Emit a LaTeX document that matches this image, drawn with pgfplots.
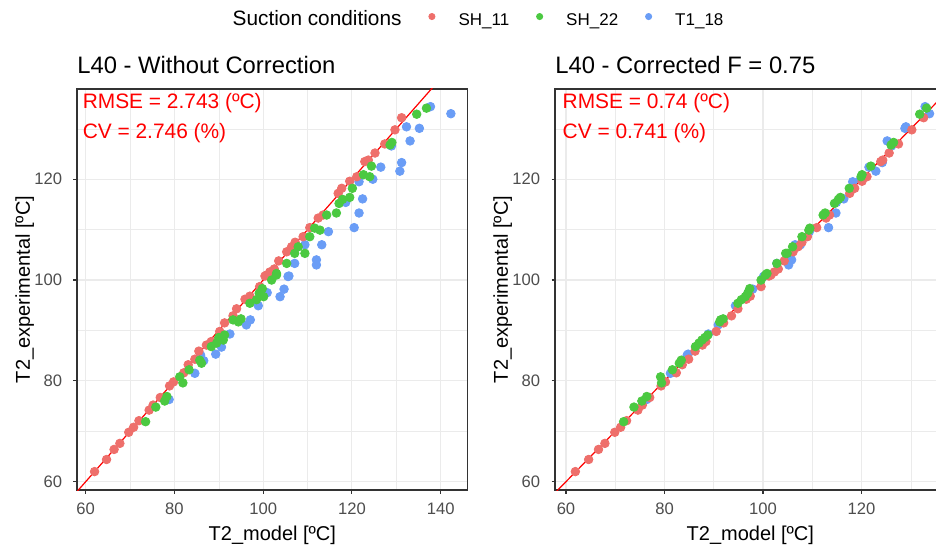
\documentclass[border=0pt]{standalone}
\usepackage{pgfplots}
\pgfplotsset{compat=1.18}
\usepackage{fontspec}
\setmainfont{Liberation Sans}

\definecolor{cSH}{HTML}{EE6F6B}
\definecolor{cSG}{HTML}{4BC941}
\definecolor{cT}{HTML}{6A9DF6}
\definecolor{tickgray}{HTML}{4D4D4D}
\definecolor{frame}{HTML}{333333}
\definecolor{gridc}{HTML}{EBEBEB}

\tikzset{annot/.style={anchor=base west, inner sep=0pt, text=red, font=\fontsize{10.45}{12}\selectfont}}

\pgfplotsset{
  panel/.style={
    scale only axis, width=195.35pt, height=200.5pt,
    ymin=58.35, ymax=137.9,
    xtick distance=20, ytick distance=20,
    minor x tick num=1, minor y tick num=1,
    grid=both,
    major grid style={color=gridc, line width=0.55pt},
    minor grid style={color=gridc, line width=0.3pt},
    axis line style={color=frame, line width=0.6pt},
    tick align=outside, xtick pos=bottom, ytick pos=left,
    major tick length=1.75pt, minor tick length=0pt,
    tick style={color=frame, line width=0.55pt},
    ticklabel style={font=\fontsize{8.3}{10}\selectfont, text=tickgray, inner sep=0pt},
    xticklabel style={anchor=north, yshift=-4.7pt},
    yticklabel style={anchor=east, xshift=-5.5pt},
    /pgf/number format/assume math mode=true,
    label style={font=\fontsize{10.4}{12}\selectfont},
    every axis x label/.style={at={(axis description cs:0.5,0)}, anchor=center, yshift=-22.5pt},
    every axis y label/.style={at={(axis description cs:0,0.5)}, xshift=-26.2pt, rotate=90, anchor=center},
    xlabel={T2\_model [ºC]}, ylabel={T2\_experimental [ºC]},
    every axis title/.style={at={(axis description cs:0,1)}, anchor=base west, yshift=7.85pt, inner sep=0pt, font=\fontsize{11.9}{14}\selectfont},
  },
  pts/.style={only marks, mark=*, mark size=2.15pt, forget plot},
  dotlegend/.style={only marks, mark=*, mark size=1.55pt,
    legend image code/.code={\path[draw=none,fill=none] (-1.7pt,4.5pt) -- (13.3pt,4.5pt); \draw[##1] plot coordinates {(0pt,4.5pt)};}},
}

\begin{document}
\begin{tikzpicture}
\useasboundingbox (0pt,0pt) rectangle (468pt,-274.5pt);

% ---------- left panel: without correction
\begin{axis}[panel, at={(38.5pt,-245pt)}, anchor=south west,
  xmin=58.04, xmax=146.09,
  title={L40 - Without Correction},
  legend columns=-1,
  legend style={draw=none, fill=none, inner sep=0pt,
    at={(0.3975,1.1733)}, anchor=west,
    column sep=0pt,
    /tikz/every even column/.append style={column sep=13.5pt},
    nodes={inner sep=0pt, anchor=base west, font=\fontsize{8.5}{10}\selectfont}},
  legend cell align=left,
]
\addlegendimage{empty legend}
\addlegendentry{\fontsize{10.4}{12}\selectfont Suction conditions}
\addlegendimage{dotlegend, color=cSH}
\addlegendentry{SH\_11}
\addlegendimage{dotlegend, color=cSG}
\addlegendentry{SH\_22}
\addlegendimage{dotlegend, color=cT}
\addlegendentry{T1\_18}

% T1_18
\addplot[pts, color=cT] coordinates {
 (78.8,76.3) (84.6,81.5) (85.9,85.1) (86.6,84.0) (89.3,85.3) (90.6,86.7)
 (92.5,89.3) (96.2,91.1) (97.1,92.1) (98.9,94.9) (100.9,97.5) (103.8,96.7)
 (104.7,98.2) (105.6,100.7) (105.8,100.8) (107.1,103.3) (109.4,107.0) (112.0,104.0)
 (112.0,103.0) (113.2,107.0) (114.7,109.6) (118.6,115.4) (120.5,110.4) (121.6,113.3)
 (121.6,119.5) (122.4,116.1) (124.7,120.0) (126.5,122.4) (128.9,126.6) (130.8,121.6)
 (131.2,123.3) (132.3,130.4) (133.1,127.6) (135.2,130.1) (137.7,134.4) (142.3,133.0)
};
% SH_11
\addplot[pts, color=cSH] coordinates {
 (62.0,62.0) (64.7,64.4) (66.4,66.4) (67.7,67.6) (69.7,69.8) (70.8,70.8)
 (72.0,72.1) (74.3,74.2) (75.2,75.2) (76.8,76.7) (78.9,79.0) (79.8,79.8)
 (82.1,81.6) (83.1,83.2) (84.6,84.3) (85.5,85.9) (87.2,87.1) (88.3,87.8)
 (90.2,89.8) (91.3,91.5) (93.2,92.9) (94.0,94.3) (95.9,96.2) (97.0,96.8)
 (99.2,98.7) (100.4,100.8) (100.8,101.0) (101.5,101.6) (102.5,102.2) (103.5,103.8)
 (105.3,105.6) (106.4,106.6) (107.2,107.5) (109.0,108.6) (110.5,110.4) (112.4,112.3)
 (113.5,112.9) (116.9,117.2) (117.7,118.2) (119.5,119.6) (121.1,120.5) (122.9,123.5)
 (123.7,123.8) (125.2,125.2) (127.4,127.0) (129.7,129.8) (131.2,132.2)
};
% SH_22
\addplot[pts, color=cSG] coordinates {
 (73.5,71.9) (75.8,74.8) (77.8,76.0) (78.3,76.9) (81.2,80.8) (81.9,79.6)
 (83.3,82.2) (85.7,84.1) (86.1,83.5) (88.3,86.8) (89.5,87.5) (91.0,88.1)
 (90.0,88.6) (91.3,89.1) (93.2,92.1) (94.4,91.7) (95.0,92.3) (97.0,95.4)
 (98.5,96.1) (99.8,98.3) (99.1,97.4) (100.1,96.7) (101.9,100.0) (103.0,101.0)
 (103.0,101.3) (105.3,103.3) (107.1,105.3) (107.9,106.6) (109.4,105.3) (110.5,108.6)
 (111.6,110.3) (112.8,109.9) (114.3,112.9) (116.5,113.3) (117.1,115.2) (117.9,116.0)
 (119.5,116.4) (120.1,118.2) (122.6,120.9) (124.0,120.5) (124.4,122.6) (128.6,126.8)
 (129.0,127.3) (134.6,132.9) (136.8,134.1)
};
\addplot[color=red, line width=0.6pt, forget plot] coordinates {(50,50) (150,150)};
\node[annot] at (axis cs:59.25,134.07) {RMSE = 2.743 (ºC)};
\node[annot] at (axis cs:59.25,128.12) {CV = 2.746 (\%)};
\end{axis}

% ---------- right panel: corrected
\begin{axis}[panel, at={(277.5pt,-245pt)}, anchor=south west,
  xmin=57.77, xmax=137.08,
  title={L40 - Corrected F = 0.75},
]
% T1_18
\addplot[pts, color=cT] coordinates {
 (76.4,76.3) (81.2,81.5) (84.6,85.1) (83.5,84.0) (84.8,85.3) (86.3,86.7)
 (88.9,89.3) (90.9,91.1) (91.8,92.1) (94.4,94.9) (97.0,97.5) (96.8,96.7)
 (97.9,98.2) (100.1,100.7) (100.3,100.8) (102.8,103.3) (106.5,107.0) (105.8,104.0)
 (105.2,103.0) (107.6,107.0) (109.4,109.6) (114.9,115.4) (113.3,110.4) (114.8,113.3)
 (118.2,119.5) (116.4,116.1) (119.8,120.0) (121.5,122.4) (126.1,126.6) (122.9,121.6)
 (124.2,123.3) (129.0,130.4) (125.2,127.6) (128.8,130.1) (132.9,134.4) (133.8,133.0)
};
% SH_11
\addplot[pts, color=cSH] coordinates {
 (61.9,62.0) (64.6,64.4) (66.6,66.4) (67.9,67.6) (69.9,69.8) (71.1,70.8)
 (72.3,72.1) (74.6,74.2) (75.5,75.2) (77.0,76.7) (79.3,79.0) (80.2,79.8)
 (82.4,81.6) (83.6,83.2) (84.9,84.3) (86.2,85.9) (87.7,87.1) (88.4,87.8)
 (90.5,89.8) (92.0,91.5) (93.6,92.9) (94.9,94.3) (96.6,96.2) (97.4,96.8)
 (99.6,98.7) (101.2,100.8) (101.6,101.0) (102.3,101.6) (103.1,102.2) (104.3,103.8)
 (106.1,105.6) (107.1,106.6) (107.9,107.5) (109.0,108.6) (110.9,110.4) (112.8,112.3)
 (113.5,112.9) (117.6,117.2) (118.6,118.2) (120.1,119.6) (121.1,120.5) (123.9,123.5)
 (124.3,123.8) (125.6,125.2) (127.5,127.0) (130.2,129.8) (132.6,132.2)
};
% SH_22
\addplot[pts, color=cSG] coordinates {
 (71.7,71.9) (73.8,74.8) (75.4,76.0) (76.4,76.9) (79.2,80.8) (79.4,79.6)
 (81.6,82.2) (83.4,84.1) (83.0,83.5) (86.3,86.8) (87.0,87.5) (87.6,88.1)
 (88.2,88.6) (88.8,89.1) (91.4,92.1) (91.2,91.7) (91.9,92.3) (94.9,95.4)
 (95.6,96.1) (97.3,98.3) (96.9,97.4) (96.4,96.7) (99.6,100.0) (100.5,101.0)
 (100.8,101.3) (102.8,103.3) (104.6,105.3) (106.0,106.6) (104.9,105.3) (107.9,108.6)
 (109.5,110.3) (109.3,109.9) (112.2,112.9) (112.6,113.3) (114.5,115.2) (115.3,116.0)
 (115.7,116.4) (117.5,118.2) (120.1,120.9) (119.9,120.5) (121.9,122.6) (126.0,126.8)
 (126.5,127.3) (131.8,132.9) (133.2,134.1)
};
\addplot[color=red, line width=0.6pt, forget plot] coordinates {(50,50) (150,150)};
\node[annot] at (axis cs:59.25,134.07) {RMSE = 0.74 (ºC)};
\node[annot] at (axis cs:59.25,128.12) {CV = 0.741 (\%)};
\end{axis}
\end{tikzpicture}
\end{document}
